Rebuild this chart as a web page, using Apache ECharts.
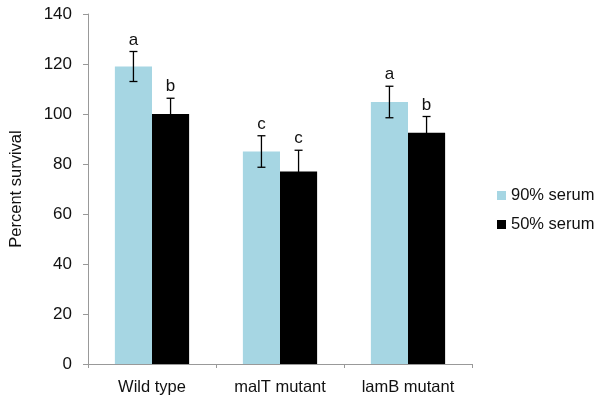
<!DOCTYPE html>
<html><head><meta charset="utf-8">
<script src="https://cdn.jsdelivr.net/npm/echarts@6/dist/echarts.min.js"></script>
<style>html,body{margin:0;padding:0;background:#fff}#c{width:600px;height:405px}</style>
</head><body><div id="c"></div>
<script>
var categories = ['Wild type', 'malT mutant', 'lamB mutant'];
var seriesNames = ['90% serum', '50% serum'];
var serum90 = [119, 85, 104.8];
var serum50 = [100, 77, 92.5];
var err90 = [6, 6.3, 6.3];
var err50 = [6.3, 8.5, 6.5];
var letters90 = ['a', 'c', 'a'];
var letters50 = ['b', 'c', 'b'];
var yTicks = {min: 0, max: 140, interval: 20};

var FONT = 'Liberation Sans, Arial, sans-serif';
var GAP = 0.42;
function errSeries(vals, errs, letters, idx) {
  var data = vals.map(function (v, i) { return [i, v, errs[i], letters[i]]; });
  return {
    type: 'custom', name: seriesNames[idx] + ' err', silent: true, z: 5,
    data: data,
    renderItem: function (params, api) {
      var i = api.value(0), v = api.value(1), e = api.value(2);
      var band = api.size([1, 0])[0];
      var bw = band * (1 - GAP) / 2;
      var c = api.coord([i, v]);
      var x = c[0] + (idx === 0 ? -bw / 2 : bw / 2);
      var top = api.coord([i, v + e])[1];
      var bot = api.coord([i, v - e])[1];
      var cap = 4;
      var st = {stroke: '#000', lineWidth: 1.3};
      return {type: 'group', children: [
        {type: 'line', shape: {x1: x, y1: top, x2: x, y2: bot}, style: st},
        {type: 'line', shape: {x1: x - cap, y1: top, x2: x + cap, y2: top}, style: st},
        {type: 'line', shape: {x1: x - cap, y1: bot, x2: x + cap, y2: bot}, style: st},
        {type: 'text', style: {text: data[params.dataIndex][3], x: x, y: top - 3, textAlign: 'center', textVerticalAlign: 'bottom', fontSize: 17, fontFamily: FONT, fill: '#111'}}
      ]};
    }
  };
}

var chart = echarts.init(document.getElementById('c'));
chart.setOption({
  animation: false,
  backgroundColor: '#fff',
  grid: {left: 82, right: 128, top: 14, bottom: 41},
  legend: {
    data: seriesNames, orient: 'vertical', left: 492, top: 182,
    itemWidth: 9, itemHeight: 9, itemGap: 12,
    textStyle: {fontSize: 16.5, color: '#111', fontFamily: FONT},
    icon: 'rect'
  },
  xAxis: {
    type: 'category', data: categories,
    axisLine: {lineStyle: {color: '#999'}},
    axisTick: {show: true, length: 4, lineStyle: {color: '#999'}},
    axisLabel: {fontSize: 16.5, color: '#111', margin: 15, fontFamily: FONT}
  },
  yAxis: {
    type: 'value', min: yTicks.min, max: yTicks.max, interval: yTicks.interval,
    name: 'Percent survival', nameLocation: 'middle', nameGap: 63,
    nameTextStyle: {fontSize: 16.5, color: '#111', fontFamily: FONT},
    axisLine: {show: true, lineStyle: {color: '#999'}},
    axisTick: {show: true, length: 5, lineStyle: {color: '#999'}},
    splitLine: {show: false},
    axisLabel: {fontSize: 17, color: '#111', margin: 16, fontFamily: FONT}
  },
  series: [
    {type: 'bar', name: seriesNames[0], data: serum90, barGap: '0%', barCategoryGap: (GAP * 100) + '%', itemStyle: {color: '#a6d6e3'}},
    {type: 'bar', name: seriesNames[1], data: serum50, barGap: '0%', barCategoryGap: (GAP * 100) + '%', itemStyle: {color: '#000'}},
    errSeries(serum90, err90, letters90, 0),
    errSeries(serum50, err50, letters50, 1)
  ]
});
</script></body></html>
